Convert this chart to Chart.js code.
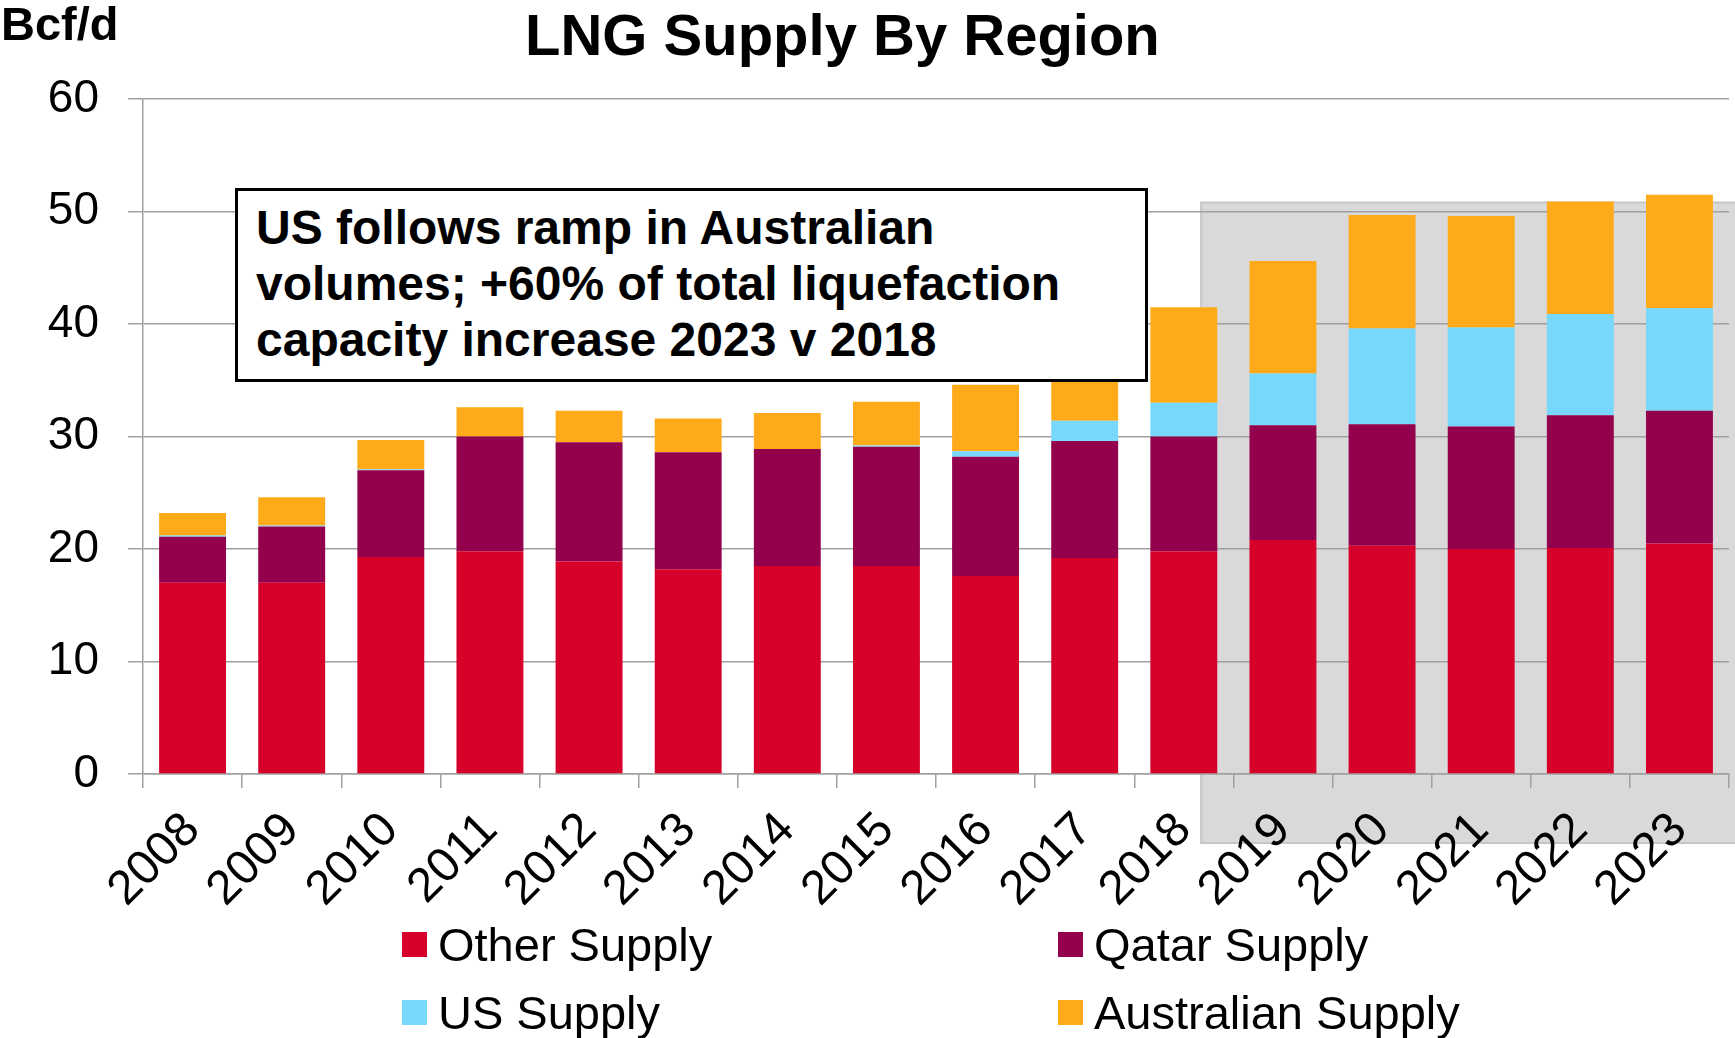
<!DOCTYPE html>
<html>
<head>
<meta charset="utf-8">
<script src="https://cdn.jsdelivr.net/npm/chart.js@4.4.1/dist/chart.umd.min.js"></script>
<style>
    html, body { margin: 0; padding: 0; background: #fff; }
    body { width: 1735px; height: 1038px; position: relative; overflow: hidden; font-family: "Liberation Sans", Arial, sans-serif; color: #000; }
    #lngChart { position: absolute; left: 0; top: 0; }
    .txt { position: absolute; white-space: nowrap; line-height: 1; }
    #title { left: 525px; top: 6px; font-size: 58px; font-weight: bold; }
    #unit { left: 1px; top: 0px; font-size: 47px; font-weight: bold; }
    #note {
        position: absolute; left: 235px; top: 188px; width: 913px; height: 194px;
        border: 3px solid #000; background: #fff; box-sizing: border-box;
        font-size: 48px; font-weight: bold; line-height: 56px;
        padding: 9px 0 0 18px;
    }
    .legend-box { position: absolute; width: 25px; height: 25px; }
    .legend-text { position: absolute; font-size: 47px; line-height: 1; white-space: nowrap; }
</style>
</head>
<body>
<canvas id="lngChart" width="1735" height="1038"></canvas>
<div id="title" class="txt">LNG Supply By Region</div>
<div id="unit" class="txt">Bcf/d</div>
<div id="note">US follows ramp in Australian<br>volumes; +60% of total liquefaction<br>capacity increase 2023 v 2018</div>
<div id="legend"></div>

<script>
const years = ['2008', '2009', '2010', '2011', '2012', '2013', '2014', '2015',
    '2016', '2017', '2018', '2019', '2020', '2021', '2022', '2023'];

// Bcf/d
const otherSupply = [17.0, 17.0, 19.3, 19.8, 18.9, 18.2, 18.5, 18.5, 17.6, 19.2, 19.8, 20.8, 20.3, 20.0, 20.1, 20.5];
const qatarSupply = [4.1, 5.0, 7.7, 10.2, 10.6, 10.4, 10.4, 10.6, 10.6, 10.4, 10.2, 10.2, 10.8, 10.9, 11.8, 11.8];
const usSupply = [0.1, 0.1, 0.1, 0, 0, 0, 0, 0.1, 0.5, 1.8, 3.0, 4.6, 8.5, 8.8, 9.0, 9.1];
const australianSupply = [2.0, 2.5, 2.6, 2.6, 2.8, 3.0, 3.2, 3.9, 5.9, 6.1, 8.5, 10.0, 10.1, 9.9, 10.0, 10.1];

const yMin = 0;
const yMax = 60;
const yStep = 10;
const forecastFrom = '2018';   // shaded outlook block starts inside this bar
const forecastTop = 50.8;

const FONT = '"Liberation Sans", Arial, sans-serif';
const GRID = '#A0A0A0';

// grey block behind the outlook years, drawn before grid and bars
const forecastShade = {
    id: 'forecastShade',
    beforeDraw(chart) {
        const { ctx, scales: { x, y }, chartArea } = chart;
        const idx = years.indexOf(forecastFrom);
        const catW = x.getPixelForValue(1) - x.getPixelForValue(0);
        const left = x.getPixelForValue(idx) + catW * 0.175;
        const top = y.getPixelForValue(forecastTop);
        const bottom = chartArea.bottom + 69;
        ctx.save();
        ctx.fillStyle = '#D9D9D9';
        ctx.fillRect(left, top, chart.width - left, bottom - top);
        ctx.strokeStyle = '#C6C6C6';
        ctx.lineWidth = 2;
        ctx.strokeRect(left, top, chart.width - left + 5, bottom - top);
        ctx.restore();
    }
};

const LngChart = {
    chart: null,

    init() {
        this.setupChart();
        this.buildLegend();
    },

    setupChart() {
        const ctx = document.getElementById('lngChart').getContext('2d');
        this.chart = new Chart(ctx, {
            type: 'bar',
            data: {
                labels: years,
                datasets: [
                    { label: 'Other Supply', data: otherSupply, backgroundColor: '#D6002B' },
                    { label: 'Qatar Supply', data: qatarSupply, backgroundColor: '#93004B' },
                    { label: 'US Supply', data: usSupply, backgroundColor: '#78D8FC' },
                    { label: 'Australian Supply', data: australianSupply, backgroundColor: '#FFAB19' }
                ]
            },
            options: {
                responsive: false,
                animation: false,
                devicePixelRatio: 1,
                datasets: { bar: { categoryPercentage: 1, barPercentage: 0.675, borderWidth: 0 } },
                layout: { padding: { top: 99, right: 6, left: 0, bottom: 0 } },
                scales: {
                    x: {
                        stacked: true,
                        afterFit: s => { s.height = 264; },
                        grid: { offset: true, drawOnChartArea: false, tickLength: 14, color: GRID, lineWidth: 1.5 },
                        border: { color: GRID, width: 1.5 },
                        ticks: {
                            autoSkip: false, maxRotation: 45, minRotation: 45,
                            color: '#000', font: { family: FONT, size: 48 }, padding: 14, labelOffset: 0
                        }
                    },
                    y: {
                        stacked: true,
                        min: yMin, max: yMax,
                        afterFit: s => { s.width = 143; },
                        grid: { color: GRID, lineWidth: 1.5, tickLength: 15 },
                        border: { color: GRID, width: 1.5 },
                        ticks: { stepSize: yStep, color: '#000', font: { family: FONT, size: 46 }, padding: 29 }
                    }
                },
                plugins: {
                    legend: { display: false },
                    tooltip: { enabled: false },
                    title: { display: false }
                }
            },
            plugins: [forecastShade]
        });
    },

    buildLegend() {
        // two columns, filled row by row like the original
        const cols = [402, 1058];
        const rows = [932, 1000];
        const holder = document.getElementById('legend');
        const items = this.chart.options.plugins.legend.labels.generateLabels(this.chart);
        items.forEach((item, i) => {
            const left = cols[i % 2];
            const top = rows[Math.floor(i / 2)];
            const box = document.createElement('div');
            box.className = 'legend-box';
            box.style.left = left + 'px';
            box.style.top = top + 'px';
            box.style.background = item.fillStyle;
            const text = document.createElement('div');
            text.className = 'legend-text';
            text.style.left = (left + 36) + 'px';
            text.style.top = (top - 11) + 'px';
            text.textContent = item.text;
            holder.appendChild(box);
            holder.appendChild(text);
        });
    }
};

document.addEventListener('DOMContentLoaded', () => LngChart.init());
</script>
</body>
</html>
